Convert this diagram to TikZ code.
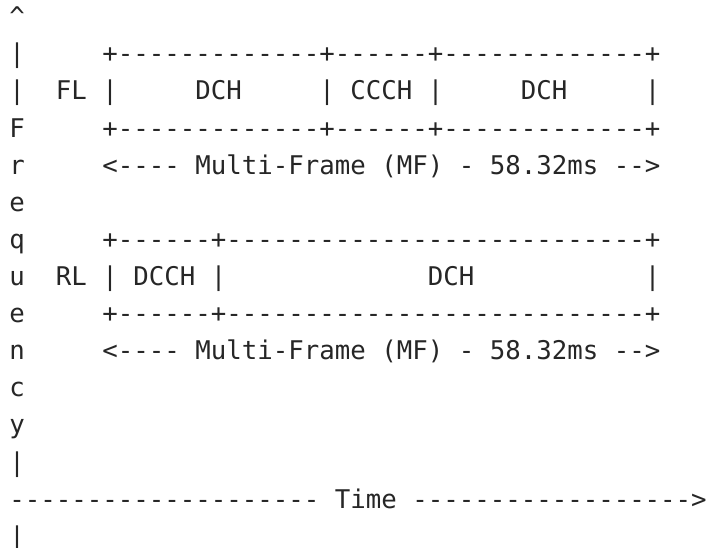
\documentclass[tikz,border=0pt]{standalone}
\usepackage{fontspec}
\setmonofont{DejaVu Sans Mono}
\definecolor{asciiink}{HTML}{262626}
\tikzset{ascii/.style={anchor=base west, inner sep=0pt, text=asciiink,
   font=\ttfamily\fontsize{19.31pt}{27.8pt}\selectfont}}

\begin{document}
\begin{tikzpicture}[x=1pt,y=1pt]
  \useasboundingbox (0,0) rectangle (534.75,-411);
  \node[ascii] (l0) at (6.75,-19.35) {\textasciicircum};
  \node[ascii] (l1) at (6.75,-47.175) {|~~~~~+-------------+------+-------------+};
  \node[ascii] (l2) at (6.75,-75.0) {|~~FL~|~~~~~DCH~~~~~|~CCCH~|~~~~~DCH~~~~~|};
  \node[ascii] (l3) at (6.75,-102.825) {F~~~~~+-------------+------+-------------+};
  \node[ascii] (l4) at (6.75,-130.65) {r~~~~~<----~Multi-Frame~(MF)~-~58.32ms~-->};
  \node[ascii] (l5) at (6.75,-158.475) {e};
  \node[ascii] (l6) at (6.75,-186.3) {q~~~~~+------+---------------------------+};
  \node[ascii] (l7) at (6.75,-214.125) {u~~RL~|~DCCH~|~~~~~~~~~~~~~DCH~~~~~~~~~~~|};
  \node[ascii] (l8) at (6.75,-241.95) {e~~~~~+------+---------------------------+};
  \node[ascii] (l9) at (6.75,-269.775) {n~~~~~<----~Multi-Frame~(MF)~-~58.32ms~-->};
  \node[ascii] (l10) at (6.75,-297.6) {c};
  \node[ascii] (l11) at (6.75,-325.425) {y};
  \node[ascii] (l12) at (6.75,-353.25) {|};
  \node[ascii] (l13) at (6.75,-381.075) {--------------------~Time~------------------>};
  \node[ascii] (l14) at (6.75,-408.9) {|};
\end{tikzpicture}
\end{document}
